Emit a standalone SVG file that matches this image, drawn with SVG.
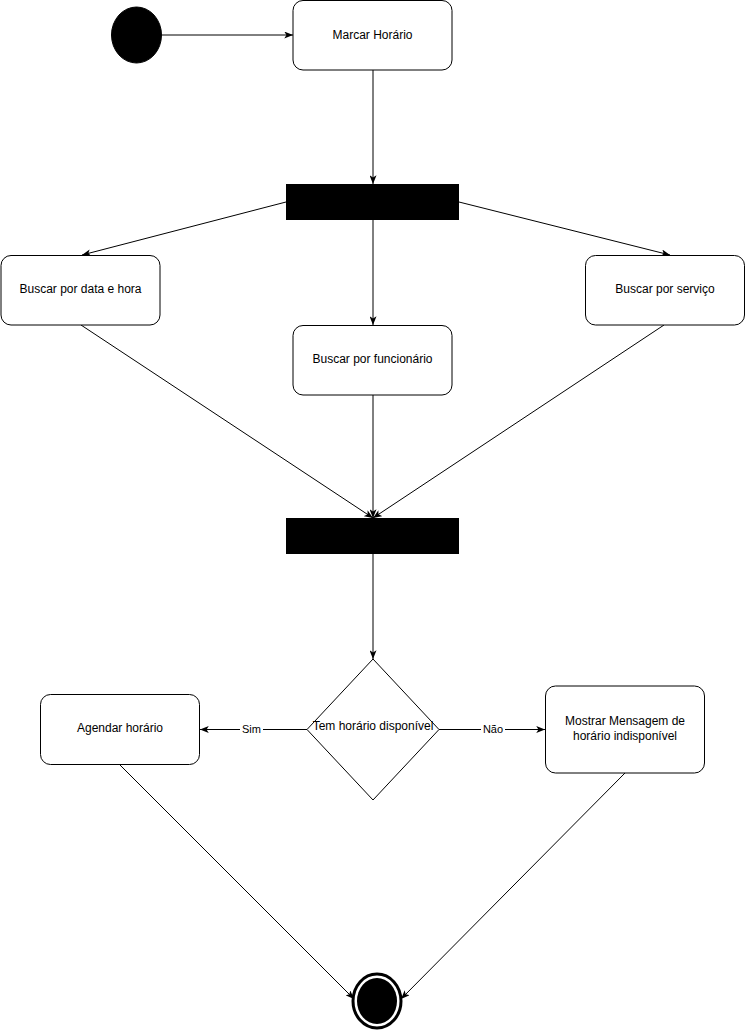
<svg xmlns="http://www.w3.org/2000/svg" width="746" height="1030" viewBox="0 0 746 1030">
<style>
.box{fill:#fff;stroke:#000;stroke-width:1}
.bar{fill:#000;stroke:#000;stroke-width:1}
.t{font-family:"Liberation Sans",Arial,sans-serif;font-size:12px;fill:#000;text-anchor:middle}
.lbl{font-family:"Liberation Sans",Arial,sans-serif;font-size:11px;fill:#000;text-anchor:middle}
.e{fill:none;stroke:#000;stroke-width:1}
.a{marker-end:url(#arr)}
</style>
<defs>
<marker id="arr" viewBox="0 0 10 8" refX="10" refY="4" markerWidth="9" markerHeight="7" markerUnits="userSpaceOnUse" orient="auto">
<path d="M0,0 L10,4 L0,8 L2.5,4 z" fill="#000"/>
</marker>
</defs>
<rect width="746" height="1030" fill="#fff"/>
<g id="connectors">
<line class="e a" x1="162" y1="35" x2="293" y2="35"/>
<line class="e a" x1="373" y1="70" x2="373" y2="184"/>
<line class="e a" x1="286" y1="202" x2="82" y2="255"/>
<line class="e a" x1="373" y1="220" x2="373" y2="325"/>
<line class="e a" x1="459" y1="202" x2="670" y2="255"/>
<line class="e a" x1="81" y1="325" x2="373" y2="518"/>
<line class="e a" x1="373" y1="395" x2="373" y2="518"/>
<line class="e a" x1="664" y1="325" x2="373" y2="518"/>
<line class="e a" x1="373" y1="554" x2="373" y2="659"/>
<line class="e a" x1="307" y1="729.5" x2="200" y2="729.5"/>
<line class="e a" x1="439" y1="729.5" x2="545" y2="729.5"/>
<line class="e a" x1="120" y1="765" x2="354" y2="999"/>
<line class="e a" x1="625" y1="773" x2="401" y2="999"/>
<rect x="240" y="722" width="23" height="14" fill="#fff"/>
<text class="lbl" x="251.5" y="733">Sim</text>
<rect x="481" y="722" width="24" height="14" fill="#fff"/>
<text class="lbl" x="493" y="733">Não</text>
</g>
<g id="start">
<ellipse cx="136.5" cy="35" rx="25" ry="28" fill="#000" stroke="#000"/>
</g>
<g id="marcar">
<rect class="box" x="293" y="0.5" width="159" height="69.5" rx="10"/>
<text class="t" x="372.5" y="39">Marcar Horário</text>
</g>
<g id="fork">
<rect class="bar" x="286.5" y="184.5" width="172" height="35"/>
</g>
<g id="data">
<rect class="box" x="1" y="255.5" width="159" height="69.5" rx="10"/>
<text class="t" x="80.5" y="293">Buscar por data e hora</text>
</g>
<g id="funcionario">
<rect class="box" x="293" y="325.5" width="159" height="69.5" rx="10"/>
<text class="t" x="372.5" y="363">Buscar por funcionário</text>
</g>
<g id="servico">
<rect class="box" x="585.5" y="255.5" width="159" height="69.5" rx="10"/>
<text class="t" x="665" y="293">Buscar por serviço</text>
</g>
<g id="join">
<rect class="bar" x="286.5" y="518.5" width="172" height="35"/>
</g>
<g id="decision">
<polygon points="373,659 439,729.5 373,800 307,729.5" fill="#fff" stroke="#000"/>
<text class="t" x="373" y="730">Tem horário disponível</text>
</g>
<g id="agendar">
<rect class="box" x="40.5" y="694.5" width="159" height="70" rx="10"/>
<text class="t" x="120" y="732">Agendar horário</text>
</g>
<g id="mostrar">
<rect class="box" x="545.5" y="686" width="159" height="87" rx="10"/>
<text class="t" x="625" y="725">Mostrar Mensagem de</text>
<text class="t" x="625" y="740">horário indisponível</text>
</g>
<g id="end">
<ellipse cx="377" cy="1001" rx="24" ry="27" fill="#fff" stroke="#000" stroke-width="3"/>
<ellipse cx="377" cy="1001" rx="20" ry="23" fill="#000"/>
</g>
</svg>
